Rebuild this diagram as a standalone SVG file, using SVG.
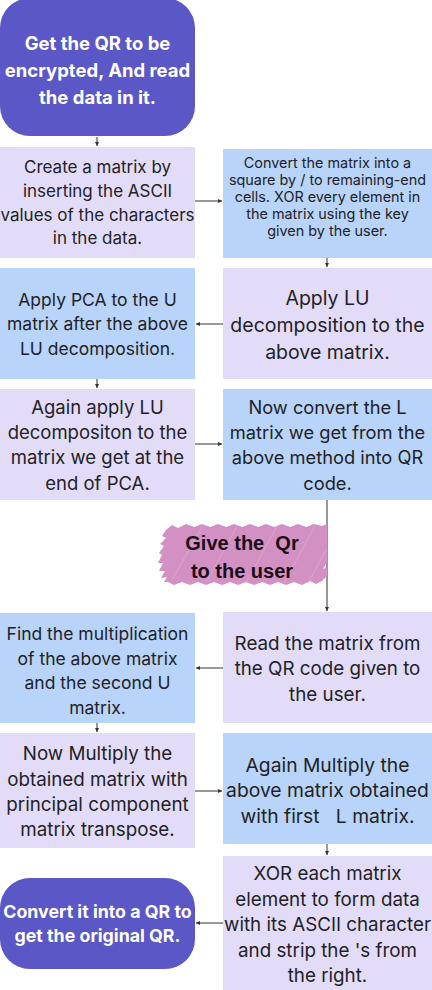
<svg xmlns="http://www.w3.org/2000/svg" width="432" height="990" viewBox="0 0 432 990">
<defs>
<marker id="ah" viewBox="0 0 6 6" refX="6" refY="3" markerWidth="4" markerHeight="4" orient="auto" markerUnits="userSpaceOnUse">
<path d="M0,0 L6,3 L0,6 z" fill="#333"/>
</marker>
</defs>
<style>
.lav{fill:#e2dcf9}
.blu{fill:#b8d4fa}
.pur{fill:#5b57c7}
.t{font-family:Inter,"Liberation Sans",sans-serif;fill:#222226;text-anchor:middle}
.w{font-family:Inter,"Liberation Sans",sans-serif;fill:#ffffff;font-weight:bold;text-anchor:middle}
.k{font-family:"Liberation Sans",Arial,sans-serif;fill:#1a0d18;font-weight:bold;text-anchor:middle}
.c{stroke:#333;stroke-width:1;fill:none;marker-end:url(#ah)}
</style>
<rect width="432" height="990" fill="#ffffff"/>

<g id="connectors">
<line class="c" x1="97" y1="137" x2="97" y2="146"/>
<line class="c" x1="195" y1="201" x2="222" y2="201"/>
<line class="c" x1="327" y1="258" x2="327" y2="267"/>
<line class="c" x1="223" y1="324" x2="196" y2="324"/>
<line class="c" x1="97" y1="379" x2="97" y2="388"/>
<line class="c" x1="195" y1="444" x2="222" y2="444"/>
<line class="c" x1="327" y1="500" x2="327" y2="611"/>
<line class="c" x1="223" y1="668" x2="196" y2="668"/>
<line class="c" x1="97" y1="723" x2="97" y2="732"/>
<line class="c" x1="195" y1="791" x2="222" y2="791"/>
<line class="c" x1="327" y1="844" x2="327" y2="855"/>
<line class="c" x1="223" y1="923" x2="196" y2="923"/>
</g>

<g id="start">
<rect class="pur" x="0" y="-2" width="195" height="138" rx="30"/>
<text class="w" font-size="18.5"><tspan x="97.5" y="50">Get the QR to be</tspan><tspan x="97.5" y="77">encrypted, And read</tspan><tspan x="97.5" y="104">the data in it.</tspan></text>
</g>

<g id="n1">
<rect class="lav" x="0" y="147" width="195" height="111"/>
<text class="t" font-size="17"><tspan x="97.5" y="173">Create a matrix by</tspan><tspan x="97.5" y="197">inserting the ASCII</tspan><tspan x="97.5" y="221">values of the characters</tspan><tspan x="97.5" y="244">in the data.</tspan></text>
</g>

<g id="n2">
<rect class="blu" x="223" y="149" width="209" height="109"/>
<text class="t" font-size="14.4"><tspan x="327.5" y="168">Convert the matrix into a</tspan><tspan x="327.5" y="185">square by / to remaining-end</tspan><tspan x="327.5" y="202">cells. XOR every element in</tspan><tspan x="327.5" y="219">the matrix using the key</tspan><tspan x="327.5" y="236">given by the user.</tspan></text>
</g>

<g id="n3">
<rect class="lav" x="223" y="268" width="209" height="111"/>
<text class="t" font-size="19.5"><tspan x="327.5" y="305">Apply LU</tspan><tspan x="327.5" y="332">decomposition to the</tspan><tspan x="327.5" y="359">above matrix.</tspan></text>
</g>

<g id="n4">
<rect class="blu" x="0" y="268" width="195" height="111"/>
<text class="t" font-size="17.5"><tspan x="97.5" y="306">Apply PCA to the U</tspan><tspan x="97.5" y="330">matrix after the above</tspan><tspan x="97.5" y="355">LU decomposition.</tspan></text>
</g>

<g id="n5">
<rect class="lav" x="0" y="389" width="195" height="111"/>
<text class="t" font-size="18.5"><tspan x="97.5" y="414">Again apply LU</tspan><tspan x="97.5" y="439">decompositon to the</tspan><tspan x="97.5" y="464">matrix we get at the</tspan><tspan x="97.5" y="490">end of PCA.</tspan></text>
</g>

<g id="n6">
<rect class="blu" x="223" y="389" width="209" height="111"/>
<text class="t" font-size="18.3"><tspan x="327.5" y="414">Now convert the L</tspan><tspan x="327.5" y="439">matrix we get from the</tspan><tspan x="327.5" y="464">above method into QR</tspan><tspan x="327.5" y="490">code.</tspan></text>
</g>

<g id="give">
<path fill="#d291c2" d="M166,530 L172,525 L178,528 L186,524 L194,527 L202,524 L210,527 L218,524 L226,527 L234,524 L242,527 L250,524 L258,527 L266,524 L274,527 L282,524 L290,527 L298,524 L306,527 L314,524 L322,526 L327,524 L327,562 L323,569 L327,567 L327,576 L322,581 L316,584 L310,581 L302,585 L294,582 L286,585 L278,582 L270,585 L262,582 L254,585 L246,582 L238,585 L230,582 L222,585 L214,582 L206,585 L198,582 L190,585 L182,582 L174,585 L168,582 L164,582 L167,577 L161,578 L165,571 L159,571 L163,563 L158,563 L162,555 L159,553 L164,546 L160,544 L166,538 L162,536 Z"/>
<g stroke="#e3b4d7" stroke-width="1" opacity="0.6">
<line x1="172" y1="580" x2="202" y2="527"/>
<line x1="206" y1="583" x2="237" y2="526"/>
<line x1="246" y1="583" x2="277" y2="526"/>
<line x1="284" y1="583" x2="315" y2="526"/>
<line x1="308" y1="583" x2="326" y2="550"/>
</g>
<text class="k" font-size="20" xml:space="preserve"><tspan x="242" y="550">Give the  Qr</tspan><tspan x="242" y="578">to the user</tspan></text>
</g>

<g id="n7">
<rect class="lav" x="223" y="612" width="209" height="111"/>
<text class="t" font-size="18.8"><tspan x="327.5" y="650">Read the matrix from</tspan><tspan x="327.5" y="675">the QR code given to</tspan><tspan x="327.5" y="701">the user.</tspan></text>
</g>

<g id="n8">
<rect class="blu" x="0" y="613" width="195" height="110"/>
<text class="t" font-size="17.5"><tspan x="97.5" y="640">Find the multiplication</tspan><tspan x="97.5" y="665">of the above matrix</tspan><tspan x="97.5" y="689">and the second U</tspan><tspan x="97.5" y="714">matrix.</tspan></text>
</g>

<g id="n9">
<rect class="lav" x="0" y="733" width="195" height="115"/>
<text class="t" font-size="18.8"><tspan x="97.5" y="760">Now Multiply the</tspan><tspan x="97.5" y="786">obtained matrix with</tspan><tspan x="97.5" y="811">principal component</tspan><tspan x="97.5" y="836">matrix transpose.</tspan></text>
</g>

<g id="n10">
<rect class="blu" x="223" y="733" width="209" height="111"/>
<text class="t" font-size="19.3"><tspan x="327.5" y="772">Again Multiply the</tspan><tspan x="327.5" y="797">above matrix obtained</tspan><tspan x="327.5" y="823" xml:space="preserve">with first   L matrix.</tspan></text>
</g>

<g id="n11">
<rect class="lav" x="223" y="856" width="209" height="134"/>
<text class="t" font-size="18.8"><tspan x="327.5" y="880">XOR each matrix</tspan><tspan x="327.5" y="906">element to form data</tspan><tspan x="327.5" y="931">with its ASCII character</tspan><tspan x="327.5" y="957">and strip the 's from</tspan><tspan x="327.5" y="982">the right.</tspan></text>
</g>

<g id="end">
<rect class="pur" x="0" y="878" width="195" height="91" rx="30"/>
<text class="w" font-size="17.8"><tspan x="97.5" y="918">Convert it into a QR to</tspan><tspan x="97.5" y="942">get the original QR.</tspan></text>
</g>
</svg>
